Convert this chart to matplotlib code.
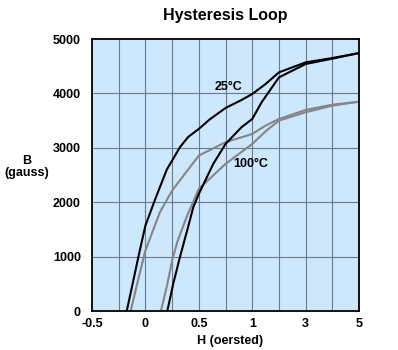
import matplotlib.pyplot as plt
import numpy as np

plt.rcParams['font.family'] = ['Liberation Sans', 'DejaVu Sans']
plt.rcParams['font.weight'] = 'bold'

# 25 C loop (oersted, gauss)
h25_down = [-0.175, -0.12, -0.06, 0.0, 0.1, 0.2, 0.323, 0.4, 0.5, 0.6, 0.75, 0.9, 1.0, 1.5, 2.0, 3.0, 4.0, 5.0]
b25_down = [0, 500, 1050, 1573, 2100, 2600, 3011, 3200, 3348, 3520, 3733, 3880, 3990, 4174, 4388, 4572, 4651, 4743]
h25_up = [0.205, 0.26, 0.323, 0.4, 0.448, 0.5, 0.635, 0.75, 0.9, 1.0, 1.35, 2.0, 3.0, 4.0, 5.0]
b25_up = [0, 500, 991, 1550, 1909, 2154, 2705, 3072, 3380, 3531, 3837, 4296, 4541, 4640, 4743]

# 100 C loop
h100_down = [-0.138, -0.07, 0.0, 0.136, 0.25, 0.5, 0.75, 1.0, 1.5, 2.0, 3.0, 4.0, 5.0]
b100_down = [0, 560, 1114, 1818, 2215, 2858, 3103, 3256, 3409, 3531, 3697, 3794, 3849]
h100_up = [0.145, 0.2, 0.25, 0.3, 0.385, 0.5, 0.75, 1.0, 1.53, 2.0, 3.0, 4.0, 5.0]
b100_up = [0, 450, 930, 1280, 1726, 2246, 2705, 3072, 3317, 3500, 3654, 3776, 3849]

xticks = [-0.5, 0, 0.5, 1, 3, 5]
xtick_labels = ['-0.5', '0', '0.5', '1', '3', '5']
xgrid = [-0.5, -0.25, 0, 0.25, 0.5, 0.75, 1, 2, 3, 4, 5]
yticks = [0, 1000, 2000, 3000, 4000, 5000]


def fwd(x):
    x = np.asarray(x, dtype=float)
    return np.where(x <= 1, (x + 0.5) * 4, 6 + (x - 1))


def inv(u):
    u = np.asarray(u, dtype=float)
    return np.where(u <= 6, u / 4 - 0.5, u - 5)


fig = plt.figure(figsize=(3.98, 3.5), dpi=100)
ax = fig.add_axes([0.2312, 0.1114, 0.671, 0.777])
ax.set_facecolor('#cde8fd')
ax.set_xscale('function', functions=(fwd, inv))
ax.set_xlim(-0.5, 5)
ax.set_ylim(0, 5000)

for g in xgrid[1:-1]:
    ax.axvline(g, color='#6a7a8a', lw=0.8, zorder=1)
for g in yticks[1:-1]:
    ax.axhline(g, color='#6a7a8a', lw=0.8, zorder=1)

ax.plot(h100_down, b100_down, color='#858585', lw=1.5, zorder=2)
ax.plot(h100_up, b100_up, color='#858585', lw=1.5, zorder=2)
ax.plot(h25_down, b25_down, color='black', lw=1.5, zorder=3)
ax.plot(h25_up, b25_up, color='black', lw=1.5, zorder=3)

ax.text(0.78, 4110, '25°C', ha='center', va='center', fontsize=9, fontweight='bold')
ax.text(0.99, 2697, '100°C', ha='center', va='center', fontsize=9, fontweight='bold')

ax.set_xticks(xticks)
ax.set_xticklabels(xtick_labels)
ax.set_yticks(yticks)
ax.minorticks_off()
ax.tick_params(length=0, labelsize=9, pad=5)
ax.tick_params(axis='y', pad=8)
for lab in ax.get_xticklabels() + ax.get_yticklabels():
    lab.set_fontweight('bold')
for s in ax.spines.values():
    s.set_linewidth(1.3)

fig.text(0.566, 0.957, 'Hysteresis Loop', ha='center', va='center', fontsize=11.5, fontweight='bold')
fig.text(0.577, 0.026, 'H (oersted)', ha='center', va='center', fontsize=9, fontweight='bold')
fig.text(0.068, 0.523, 'B\n(gauss)', ha='center', va='center', fontsize=9, fontweight='bold', linespacing=1.0)

fig.savefig('out.png', dpi=100)
